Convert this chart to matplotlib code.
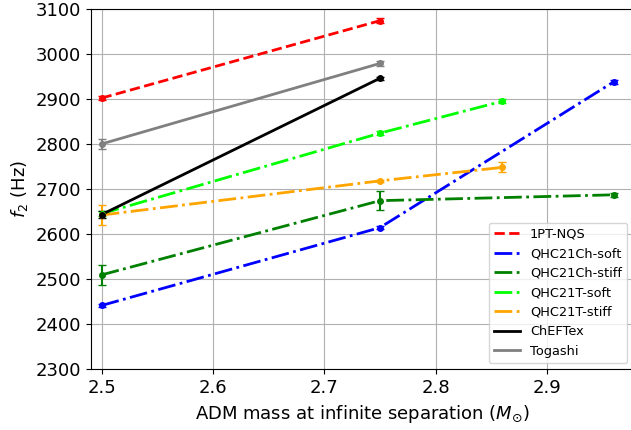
import matplotlib.pyplot as plt

# ADM mass (M_sun) and f2 peak frequency (Hz) with uncertainties
m_nqs = [2.5, 2.75]
f_nqs = [2903, 3075]
e_nqs = [5, 6]

m_ch_soft = [2.5, 2.75, 2.96]
f_ch_soft = [2442, 2615, 2939]
e_ch_soft = [4, 4, 5]

m_ch_stiff = [2.5, 2.75, 2.96]
f_ch_stiff = [2510, 2675, 2688]
e_ch_stiff = [23, 21, 5]

m_t_soft = [2.5, 2.75, 2.86]
f_t_soft = [2646, 2825, 2896]
e_t_soft = [6, 5, 4]

m_t_stiff = [2.5, 2.75, 2.86]
f_t_stiff = [2643, 2719, 2749]
e_t_stiff = [22, 3, 11]

m_chef = [2.5, 2.75]
f_chef = [2644, 2947]
e_chef = [8, 3]

m_tog = [2.5, 2.75]
f_tog = [2801, 2980]
e_tog = [12, 6]

runs = [
    (m_nqs, f_nqs, e_nqs, 'red', '--', '1PT-NQS'),
    (m_ch_soft, f_ch_soft, e_ch_soft, 'blue', '-.', 'QHC21Ch-soft'),
    (m_ch_stiff, f_ch_stiff, e_ch_stiff, 'green', '-.', 'QHC21Ch-stiff'),
    (m_t_soft, f_t_soft, e_t_soft, 'lime', '-.', 'QHC21T-soft'),
    (m_t_stiff, f_t_stiff, e_t_stiff, 'orange', '-.', 'QHC21T-stiff'),
    (m_chef, f_chef, e_chef, 'black', '-', 'ChEFTex'),
    (m_tog, f_tog, e_tog, 'gray', '-', 'Togashi'),
]

fig = plt.figure(figsize=(6.31, 4.30), dpi=100)
ax = fig.add_axes([0.1442, 0.141, 0.86, 0.837])

for m, f, e, c, ls, lab in runs:
    ax.plot(m, f, color=c, ls=ls, lw=2, label=lab)
    ax.errorbar(m, f, yerr=e, fmt='o', color=c, markersize=4, capsize=3, lw=1.5)

ax.set_xlim(2.4905, 2.978)
ax.set_ylim(2300, 3100)
ax.set_xticks([2.5, 2.6, 2.7, 2.8, 2.9])
ax.tick_params(labelsize=13)
ax.set_xlabel(r'ADM mass at infinite separation ($M_{\odot}$)', fontsize=13)
ax.set_ylabel(r'$f_2$ (Hz)', fontsize=13)
ax.grid(True)
ax.legend(loc='lower right', fontsize=9.3)

plt.savefig('out.png', dpi=100)
